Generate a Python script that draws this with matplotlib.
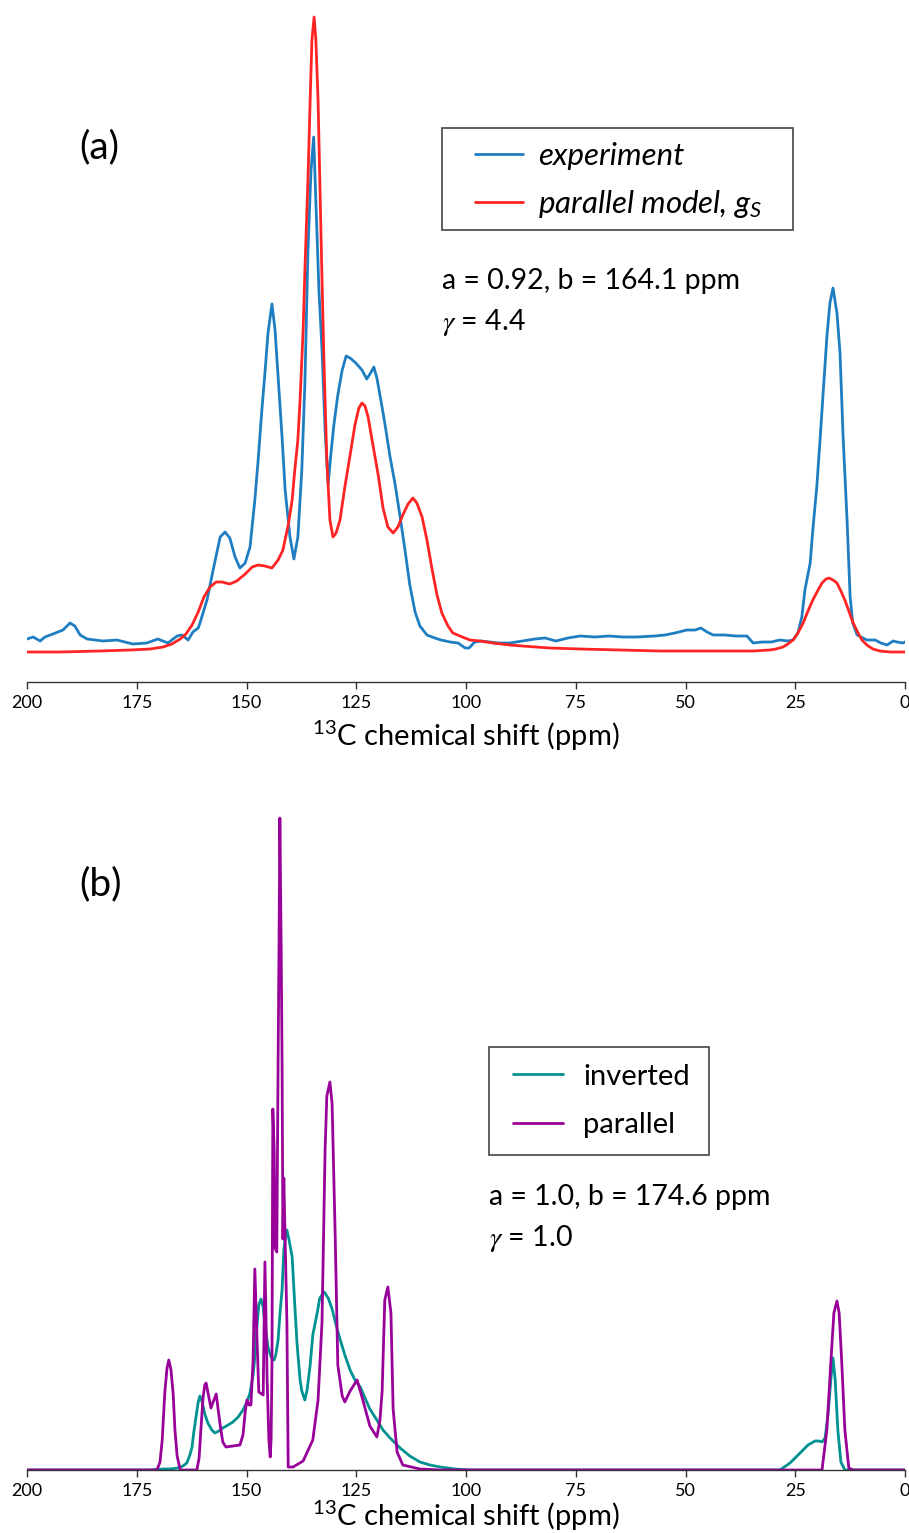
import numpy as np
import matplotlib
matplotlib.use('Agg')
import matplotlib.pyplot as plt
from matplotlib.patches import Rectangle

plt.rcParams['font.family'] = ['Lato', 'DejaVu Sans']
plt.rcParams['mathtext.fontset'] = 'custom'
plt.rcParams['mathtext.rm'] = 'Lato'
plt.rcParams['mathtext.it'] = 'Lato:italic'

# (ppm, intensity a.u.)
# panel (a)
experiment = [
    (200.0, 13), (198.6, 15), (197.0, 11), (195.9, 15), (194.1, 18), (191.8, 22), (190.2, 29),
    (189.1, 26), (187.9, 17), (186.3, 13), (182.7, 11), (179.5, 12), (175.9, 8), (172.7, 9),
    (170.2, 13), (167.9, 9), (165.8, 16), (164.7, 17), (163.3, 12), (162.2, 20), (161.0, 24),
    (160.6, 29), (159.0, 52), (157.6, 82), (156.0, 115), (154.9, 120), (153.8, 114), (152.6, 95),
    (151.5, 84), (150.3, 89), (149.2, 105), (148.1, 152), (147.4, 189), (146.5, 242), (145.8, 279),
    (145.1, 319), (144.2, 348), (143.5, 322), (142.8, 275), (141.9, 215), (141.2, 162), (140.1, 115),
    (139.2, 93), (138.3, 115), (137.4, 182), (136.7, 269), (136.0, 402), (135.3, 482), (134.7, 515),
    (134.2, 452), (133.5, 362), (132.8, 302), (132.1, 222), (131.4, 168), (130.8, 197), (130.1, 227),
    (129.2, 257), (128.2, 282), (127.3, 296), (126.4, 294), (125.1, 289), (123.7, 282), (122.6, 273),
    (121.6, 280), (121.0, 285), (120.3, 274), (119.4, 252), (118.5, 229), (117.3, 195), (116.2, 169),
    (115.0, 135), (113.9, 102), (112.8, 67), (111.6, 40), (110.5, 26), (108.9, 17), (107.1, 14),
    (105.7, 12), (103.6, 10), (101.8, 9), (100.2, 4), (99.3, 4), (98.0, 10), (96.6, 11),
    (94.5, 10), (92.5, 9), (90.0, 9), (87.2, 11), (84.3, 13), (82.0, 14), (79.5, 11),
    (76.8, 14), (74.0, 16), (70.6, 15), (67.4, 16), (64.2, 15), (61.1, 15), (57.0, 16),
    (54.7, 17), (52.4, 19), (49.7, 22), (47.8, 22), (46.5, 24), (45.1, 20), (43.7, 17),
    (41.0, 17), (38.5, 16), (36.0, 16), (34.6, 9), (32.6, 10), (30.5, 10), (28.5, 12),
    (26.7, 11), (25.5, 12), (24.4, 19), (23.5, 35), (22.8, 62), (21.6, 89), (21.0, 122),
    (20.1, 165), (19.4, 209), (18.7, 255), (17.8, 315), (17.1, 349), (16.4, 364), (15.5, 339),
    (14.8, 299), (14.1, 215), (13.2, 132), (12.5, 55), (11.9, 29), (10.9, 17), (8.7, 12),
    (6.8, 12), (5.5, 9), (4.1, 7), (2.7, 11), (1.8, 10), (0.5, 9), (0.0, 10),
]
parallel_model = [
    (200.0, 0), (192.5, 0), (183.4, 1), (176.5, 2), (172.0, 3), (169.0, 5), (167.0, 8),
    (165.1, 13), (163.8, 18), (162.4, 27), (161.0, 40), (159.7, 55), (158.3, 65), (156.9, 70),
    (155.6, 70), (153.8, 68), (152.2, 71), (150.3, 78), (148.7, 85), (147.4, 87), (145.8, 86),
    (144.2, 84), (142.8, 92), (141.7, 102), (140.5, 127), (139.6, 152), (139.0, 182), (138.3, 212),
    (137.8, 252), (137.1, 322), (136.7, 382), (136.0, 472), (135.5, 552), (135.1, 612), (134.6, 635),
    (134.2, 612), (133.7, 552), (133.3, 472), (132.8, 372), (132.3, 282), (131.7, 192), (131.0, 132),
    (130.3, 115), (129.6, 119), (128.7, 132), (127.6, 165), (126.4, 197), (125.3, 227), (124.4, 244),
    (123.7, 249), (123.0, 246), (122.3, 235), (121.2, 207), (120.0, 177), (118.9, 144), (117.8, 125),
    (116.6, 119), (115.5, 125), (114.4, 137), (113.2, 148), (112.1, 154), (111.2, 149), (110.0, 135),
    (108.9, 112), (107.7, 82), (106.6, 57), (105.5, 39), (104.1, 26), (103.0, 19), (101.4, 16),
    (99.1, 12), (96.8, 11), (93.9, 9), (90.0, 7), (87.2, 6), (80.9, 4), (74.0, 3),
    (64.9, 2), (55.8, 1), (46.7, 1), (34.6, 1), (30.8, 2), (29.4, 3), (27.8, 5),
    (26.7, 8), (25.5, 12), (24.4, 19), (23.2, 29), (22.1, 41), (21.0, 52), (19.8, 62),
    (18.9, 69), (18.0, 73), (17.3, 74), (16.4, 72), (15.5, 69), (14.6, 61), (13.7, 52),
    (12.8, 41), (11.8, 29), (10.7, 19), (9.8, 12), (8.7, 7), (7.3, 3), (5.7, 1),
    (3.4, 0), (0.0, 0),
]
# panel (b)
inverted = [
    (200.0, 0), (172.0, 0), (169.0, 1), (167.4, 1), (165.6, 2), (164.5, 4), (163.6, 7),
    (162.9, 15), (162.4, 23), (162.0, 38), (161.5, 53), (161.0, 68), (160.6, 74), (160.1, 68),
    (159.5, 56), (158.8, 47), (157.9, 40), (157.2, 37), (156.3, 39), (155.4, 42), (154.2, 45),
    (153.1, 48), (151.9, 53), (150.8, 60), (149.9, 68), (149.2, 77), (148.5, 95), (148.1, 113),
    (147.6, 145), (147.2, 165), (146.7, 171), (146.2, 163), (145.8, 145), (145.1, 123), (144.4, 113),
    (143.7, 110), (143.3, 116), (142.8, 130), (142.4, 155), (141.9, 180), (141.5, 220), (141.0, 238),
    (140.8, 240), (140.3, 230), (139.6, 213), (139.0, 165), (138.5, 127), (137.8, 90), (137.4, 79),
    (136.7, 70), (136.2, 80), (135.5, 105), (134.9, 135), (133.9, 157), (133.3, 172), (132.3, 178),
    (131.4, 172), (130.5, 161), (129.6, 145), (128.7, 131), (127.6, 115), (126.4, 100), (125.3, 90),
    (124.1, 83), (123.0, 72), (121.9, 61), (120.3, 50), (118.9, 40), (117.3, 32), (115.0, 22),
    (112.8, 14), (110.5, 8), (108.2, 5), (105.9, 3), (102.5, 1), (99.1, 0), (28.5, 0),
    (26.2, 7), (23.9, 17), (22.1, 25), (20.5, 29), (19.6, 29), (18.9, 28), (18.2, 32),
    (17.5, 57), (16.9, 90), (16.4, 112), (15.9, 90), (15.3, 40), (14.6, 8), (13.7, 0),
    (0.0, 0),
]
parallel = [
    (200.0, 0), (178.8, 0), (170.4, 0), (169.7, 8), (169.2, 30), (168.6, 78), (168.1, 102),
    (167.7, 110), (167.2, 100), (166.7, 76), (166.3, 40), (165.8, 14), (165.1, 0), (161.3, 0),
    (160.8, 12), (160.4, 40), (159.9, 72), (159.5, 85), (159.2, 87), (158.8, 78), (158.1, 62),
    (157.6, 68), (156.9, 76), (156.5, 62), (156.0, 45), (155.4, 28), (154.7, 23), (153.1, 24),
    (151.5, 25), (150.8, 35), (150.3, 58), (149.9, 70), (149.4, 65), (149.0, 65), (148.5, 110),
    (148.1, 201), (147.6, 130), (147.2, 78), (146.2, 75), (145.8, 208), (145.3, 90), (144.9, 30),
    (144.6, 13), (144.4, 30), (144.2, 105), (144.0, 361), (143.7, 320), (143.5, 222), (143.1, 218),
    (142.8, 409), (142.6, 520), (142.4, 652), (142.1, 520), (141.9, 409), (141.7, 231), (141.5, 292),
    (141.2, 231), (140.8, 148), (140.5, 3), (139.4, 3), (137.1, 9), (134.9, 30), (133.7, 70),
    (132.8, 148), (132.1, 320), (131.7, 374), (131.0, 388), (130.5, 366), (129.8, 235), (129.2, 105),
    (128.2, 74), (127.6, 68), (126.4, 79), (124.8, 90), (123.5, 70), (121.9, 44), (120.3, 33),
    (119.6, 50), (119.1, 79), (118.5, 170), (117.8, 183), (117.1, 157), (116.6, 61), (115.7, 18),
    (114.4, 5), (110.5, 1), (105.9, 0), (18.9, 0), (17.8, 40), (16.9, 107), (16.2, 157),
    (15.5, 169), (15.0, 157), (14.4, 107), (13.7, 40), (12.8, 2), (11.8, 0), (0.0, 0),
]

ticks = [200, 175, 150, 125, 100, 75, 50, 25, 0]
xlabel = '$^{13}$C chemical shift (ppm)'

W, H = 909, 1533


def fx(p):
    return p / W


def fy(p):
    return 1 - p / H


fig = plt.figure(figsize=(W / 100, H / 100), dpi=100)
ax_a = fig.add_axes([fx(27), fy(682), fx(905 - 27), (682 - 0) / H])
ax_b = fig.add_axes([fx(27), fy(1470), fx(905 - 27), (1470 - 790) / H])

for ax, lp in ((ax_a, 6), (ax_b, 0.5)):
    for s in ('left', 'top', 'right'):
        ax.spines[s].set_visible(False)
    ax.spines['bottom'].set_color('#333333')
    ax.spines['bottom'].set_linewidth(1.0)
    ax.set_yticks([])
    ax.set_xlim(200, 0)
    ax.set_xticks(ticks)
    ax.set_xticklabels([str(t) for t in ticks])
    ax.tick_params(axis='x', direction='out', length=5, width=1, color='#333333',
                   labelsize=13, pad=4)
    ax.set_xlabel(xlabel, fontsize=21, labelpad=lp)

ax_a.set_ylim(-30, 652)
ax_b.set_ylim(0, 680)

kw = dict(lw=2, solid_joinstyle='round', solid_capstyle='round')
x, y = zip(*experiment)
ax_a.plot(x, y, color='#1f7ec2', label='experiment', **kw)
x, y = zip(*parallel_model)
ax_a.plot(x, y, color='#ff2424', label='parallel model, $g_S$', **kw)

x, y = zip(*inverted)
ax_b.plot(x, y, color='#009191', label='inverted', **kw)
x, y = zip(*parallel)
ax_b.plot(x, y, color='#990099', label='parallel', **kw)

# legends (frame drawn separately)
leg_a = ax_a.legend(loc='center left', bbox_to_anchor=(fx(475), fy(181)),
                    bbox_transform=fig.transFigure, frameon=False,
                    borderpad=0, borderaxespad=0, handlelength=1.55,
                    handletextpad=0.48, labelspacing=0.55,
                    prop={'style': 'italic', 'size': 22.5})
leg_b = ax_b.legend(loc='center left', bbox_to_anchor=(fx(513), fy(1101)),
                    bbox_transform=fig.transFigure, frameon=False,
                    borderpad=0, borderaxespad=0, handlelength=1.72,
                    handletextpad=0.69, labelspacing=0.78,
                    prop={'size': 21})
for leg in (leg_a, leg_b):
    for h in leg.get_lines():
        h.set_linewidth(2)

fig.patches.append(Rectangle((fx(442), fy(230)), fx(793 - 442), (230 - 128) / H,
                             transform=fig.transFigure, fill=False,
                             edgecolor='#444444', lw=1.2))
fig.patches.append(Rectangle((fx(489), fy(1155)), fx(709 - 489), (1155 - 1047) / H,
                             transform=fig.transFigure, fill=False,
                             edgecolor='#444444', lw=1.2))

# panel labels and parameters
fig.text(fx(79), fy(147), '(a)', fontsize=28, va='center', ha='left')
fig.text(fx(79), fy(884), '(b)', fontsize=28, va='center', ha='left')

fig.text(fx(442), fy(281), 'a = 0.92, b = 164.1 ppm', fontsize=20.5, va='center')
fig.text(fx(442), fy(323), r'$\gamma$ = 4.4', fontsize=20.5, va='center',
         math_fontfamily='stix')
fig.text(fx(489), fy(1197), 'a = 1.0, b = 174.6 ppm', fontsize=20.5, va='center')
fig.text(fx(489), fy(1239), r'$\gamma$ = 1.0', fontsize=20.5, va='center',
         math_fontfamily='stix')

fig.savefig('out.png', dpi=100)
